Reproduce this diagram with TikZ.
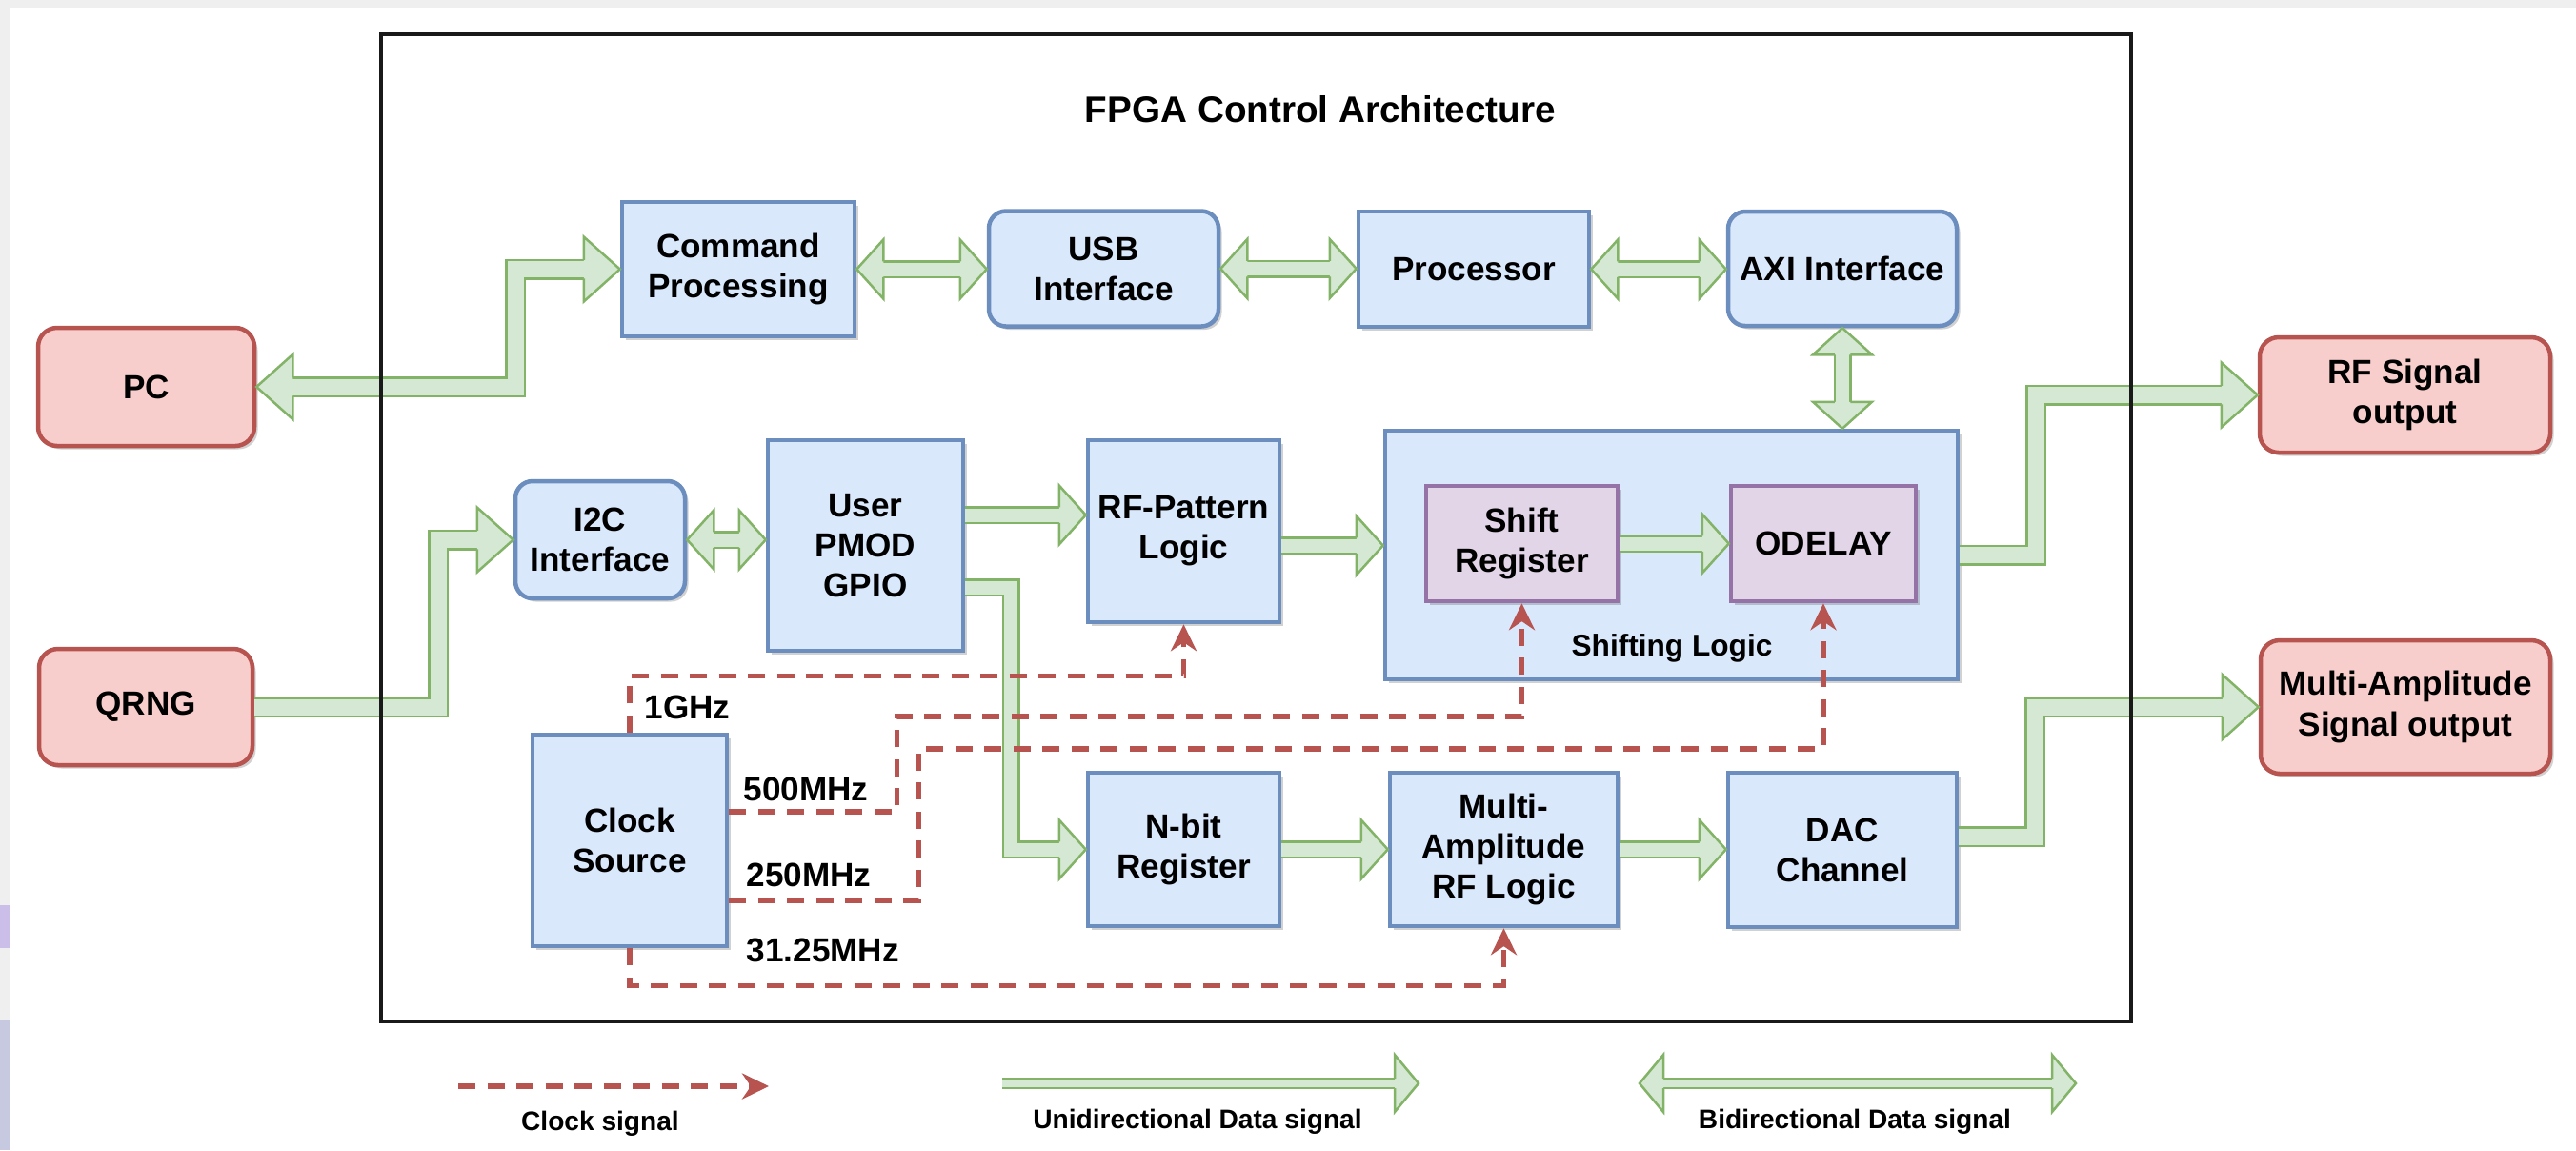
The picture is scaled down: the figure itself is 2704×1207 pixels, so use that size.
\documentclass[tikz,border=0pt]{standalone}
\usepackage{fontspec}
\setmainfont{Liberation Sans}
\usetikzlibrary{calc,arrows.meta,shadows}

\definecolor{lgreen}{HTML}{D5E8D4}
\definecolor{dgreen}{HTML}{82B366}
\definecolor{bfill}{HTML}{DAE8FC}
\definecolor{bline}{HTML}{6C8EBF}
\definecolor{pfill}{HTML}{E1D5E7}
\definecolor{pline}{HTML}{9673A6}
\definecolor{rfill}{HTML}{F8CECC}
\definecolor{rline}{HTML}{B85450}
\definecolor{edgegray}{HTML}{EFEFEF}
\definecolor{lavA}{HTML}{CBBFE9}
\definecolor{lavB}{HTML}{C6C9E0}

\newcommand\bxfont{\fontsize{10pt}{12pt}\selectfont\bfseries}
\newcommand\smfont{\fontsize{9pt}{11pt}\selectfont\bfseries}
\newcommand\lgfont{\fontsize{8pt}{10pt}\selectfont\bfseries}
\newcommand\ttlfont{\fontsize{11pt}{13pt}\selectfont\bfseries}

% block-arrow head: #1 length, #2 half shaft, #3 half head, #4 tip, #5 direction
\newcommand\fhead[5]{%
  \filldraw[fill=lgreen, draw=dgreen, line width=0.25mm, line join=miter,
    shift={(#4)}, rotate=#5]
    (-#1,#2) -- (-#1,#3) -- (0,0) -- (-#1,-#3) -- (-#1,-#2);}
\newcommand\bighead[2]{\fhead{3.8mm}{0.975mm}{3.4mm}{#1}{#2}}
\newcommand\smhead[2]{\fhead{2.8mm}{0.825mm}{3.1mm}{#1}{#2}}
\newcommand\lghead[2]{\fhead{2.5mm}{0.5mm}{3.0mm}{#1}{#2}}

\begin{document}
\begin{tikzpicture}[x=0.1mm, y=-0.1mm,
  blk/.style={draw=bline, fill=bfill, line width=0.45mm, align=center,
    inner sep=0pt, font=\bxfont,
    drop shadow={shadow xshift=0.35mm, shadow yshift=-0.35mm, opacity=0.18, fill=black}},
  rblk/.style={blk, rounded corners=1.8mm},
  pblk/.style={blk, draw=pline, fill=pfill},
  xblk/.style={blk, draw=rline, fill=rfill, rounded corners=2mm},
  bigshaft/.style={draw=dgreen, line width=0.25mm, double=lgreen, double distance=1.7mm},
  smshaft/.style={draw=dgreen, line width=0.25mm, double=lgreen, double distance=1.4mm},
  lgshaft/.style={draw=dgreen, line width=0.2mm, double=lgreen, double distance=0.8mm},
  clk/.style={draw=rline, line width=0.52mm, dash pattern=on 1.8mm off 1.25mm,
    -{Stealth[length=2.8mm, width=2.7mm]}},
  flab/.style={fill=white, inner sep=0.4mm, font=\bxfont, anchor=west},
  lgtext/.style={font=\lgfont},
]
\useasboundingbox (0,0) rectangle (2704,1207);

% page background with the thin slide margin
\fill[white] (0,0) rectangle (2704,1207);
\fill[edgegray] (0,0) rectangle (2704,8);
\fill[edgegray] (0,0) rectangle (10,1207);
\fill[lavA] (0,950) rectangle (10,995);
\fill[lavB] (0,1070) rectangle (10,1207);

% title
\node[font=\ttlfont] (title) at (1386,115) {FPGA Control Architecture};

% external blocks
\node[xblk, minimum width=22.7mm, minimum height=12.4mm] (PC) at (153.5,406) {PC};
\node[xblk, minimum width=22.4mm, minimum height=12.2mm] (QRNG) at (153,742) {QRNG};
\node[xblk, minimum width=30.5mm, minimum height=12.1mm] (RFO) at (2524.5,414.5) {RF Signal\\output};
\node[xblk, minimum width=30.4mm, minimum height=14.0mm] (MAO) at (2525,742) {Multi-Amplitude\\Signal output};

% top row
\node[blk, minimum width=24.4mm, minimum height=14.1mm] (CMD) at (775,282.5) {Command\\Processing};
\node[rblk, minimum width=24.1mm, minimum height=12.1mm] (USB) at (1158.5,282) {USB\\Interface};
\node[blk, minimum width=24.2mm, minimum height=12.1mm] (PROC) at (1547,282.5) {Processor};
\node[rblk, minimum width=24.0mm, minimum height=12.0mm] (AXI) at (1934,282) {AXI Interface};

% middle row
\node[rblk, minimum width=17.8mm, minimum height=12.3mm] (I2C) at (630,566.5) {I2C\\Interface};
\node[blk, minimum width=20.5mm, minimum height=22.1mm] (PMOD) at (908.5,572.5) {User\\PMOD\\GPIO};
\node[blk, minimum width=20.1mm, minimum height=19.1mm] (RFP) at (1242.5,557.5) {RF-Pattern\\Logic};
\node[blk, minimum width=60.1mm, minimum height=26.1mm] (SHL) at (1754.5,582.5) {};
\node[pblk, minimum width=20.1mm, minimum height=12.1mm] (SR) at (1597.5,570.5) {Shift\\Register};
\node[pblk, minimum width=19.4mm, minimum height=12.1mm] (OD) at (1914,570.5) {ODELAY};
\node[font=\smfont] (SHLt) at (1755,680) {Shifting Logic};

% bottom row
\node[blk, minimum width=20.4mm, minimum height=22.2mm] (CLK) at (661,882) {Clock\\Source};
\node[blk, minimum width=20.1mm, minimum height=16.1mm] (NB) at (1242.5,891.5) {N-bit\\Register};
\node[blk, minimum width=23.9mm, minimum height=16.1mm] (MA) at (1578.5,891.5) {Multi-\\Amplitude\\RF Logic};
\node[blk, minimum width=24.0mm, minimum height=16.2mm] (DAC) at (1934,892) {DAC\\Channel};

% ---- data paths ----
% PC <-> Command Processing
\coordinate (j1) at (541,0);
\draw[bigshaft] ($(PC.east)+(36,0)$) -- (j1 |- PC.east) -- (j1 |- CMD.west) -- ($(CMD.west)+(-36,0)$);
\bighead{PC.east}{180}
\bighead{CMD.west}{0}

% top row links
\draw[smshaft] ($(CMD.east)+(26,0)$) -- ($(USB.west |- CMD.east)+(-26,0)$);
\smhead{CMD.east}{180}
\smhead{USB.west |- CMD.east}{0}
\draw[smshaft] ($(USB.east)+(26,0)$) -- ($(PROC.west |- USB.east)+(-26,0)$);
\smhead{USB.east}{180}
\smhead{PROC.west |- USB.east}{0}
\draw[smshaft] ($(PROC.east)+(26,0)$) -- ($(AXI.west |- PROC.east)+(-26,0)$);
\smhead{PROC.east}{180}
\smhead{AXI.west |- PROC.east}{0}

% AXI <-> Shifting Logic
\draw[smshaft] ($(AXI.south)+(0,26)$) -- ($(AXI.south |- SHL.north)+(0,-26)$);
\smhead{AXI.south}{90}
\smhead{AXI.south |- SHL.north}{-90}

% QRNG -> I2C
\coordinate (j2) at (460,0);
\draw[bigshaft] (QRNG.east) -- (j2 |- QRNG.east) -- (j2 |- I2C.west) -- ($(I2C.west)+(-36,0)$);
\bighead{I2C.west}{0}

% I2C <-> User PMOD
\draw[smshaft] ($(I2C.east)+(26,0)$) -- ($(PMOD.west |- I2C.east)+(-26,0)$);
\smhead{I2C.east}{180}
\smhead{PMOD.west |- I2C.east}{0}

% User PMOD -> RF-Pattern Logic
\coordinate (p1) at ($(PMOD.east)+(0,-32)$);
\draw[smshaft] (p1) -- ($(RFP.west |- p1)+(-26,0)$);
\smhead{RFP.west |- p1}{0}

% User PMOD -> N-bit Register
\coordinate (p2) at ($(PMOD.east)+(0,44)$);
\coordinate (j5) at (1061,0);
\draw[smshaft] (p2) -- (j5 |- p2) -- (j5 |- NB.west) -- ($(NB.west)+(-26,0)$);
\smhead{NB.west}{0}

% RF-Pattern Logic -> Shifting Logic
\coordinate (p3) at ($(RFP.east)+(0,15)$);
\draw[smshaft] (p3) -- ($(SHL.west |- p3)+(-26,0)$);
\smhead{SHL.west |- p3}{0}

% Shift Register -> ODELAY
\draw[smshaft] (SR.east) -- ($(OD.west)+(-26,0)$);
\smhead{OD.west}{0}

% Shifting Logic -> RF Signal output
\coordinate (j8) at (2137,0);
\draw[bigshaft] (SHL.east) -- (j8 |- SHL.east) -- (j8 |- RFO.west) -- ($(RFO.west)+(-36,0)$);
\bighead{RFO.west}{0}

% N-bit -> Multi-Amplitude -> DAC
\draw[smshaft] (NB.east) -- ($(MA.west)+(-26,0)$);
\smhead{MA.west}{0}
\draw[smshaft] (MA.east) -- ($(DAC.west |- MA.east)+(-26,0)$);
\smhead{DAC.west |- MA.east}{0}

% DAC -> Multi-Amplitude Signal output
\coordinate (p4) at ($(DAC.east)+(0,-14)$);
\coordinate (j10) at (2136,0);
\draw[bigshaft] (p4) -- (j10 |- p4) -- (j10 |- MAO.west) -- ($(MAO.west)+(-36,0)$);
\bighead{MAO.west}{0}

% ---- clock distribution ----
\draw[clk] (CLK.north) -- ++(0,-59) -| (RFP.south);
\draw[clk] ($(CLK.east)+(0,-30)$) -- ++(176,0) -- ++(0,-100) -| (SR.south);
\draw[clk] ($(CLK.east)+(0,63)$) -- ++(199,0) -- ++(0,-159) -| (OD.south);
\draw[clk] (CLK.south) -- ++(0,39) -| (MA.south);
\node[flab] (f1) at (672,742) {1GHz};
\node[flab] (f2) at (776,828) {500MHz};
\node[flab] (f3) at (779,918) {250MHz};
\node[flab] (f4) at (779,997) {31.25MHz};

% FPGA boundary
\draw[line width=0.4mm, black!90] (400,36) rectangle (2237,1072);

% ---- legend ----
\coordinate (lc1) at (481,1140);
\coordinate (lc2) at (807,1140);
\draw[clk] (lc1) -- (lc2);
\node[lgtext] (lct) at (630,1179) {Clock signal};

\coordinate (lu1) at (1052,1137);
\coordinate (lu2) at (1489,1137);
\draw[lgshaft] (lu1) -- ($(lu2)+(-23,0)$);
\lghead{lu2}{0}
\node[lgtext] (lut) at (1257,1177) {Unidirectional Data signal};

\coordinate (lb1) at (1721,1137);
\coordinate (lb2) at (2179,1137);
\draw[lgshaft] ($(lb1)+(23,0)$) -- ($(lb2)+(-23,0)$);
\lghead{lb1}{180}
\lghead{lb2}{0}
\node[lgtext] (lbt) at (1947,1177) {Bidirectional Data signal};
\end{tikzpicture}
\end{document}
